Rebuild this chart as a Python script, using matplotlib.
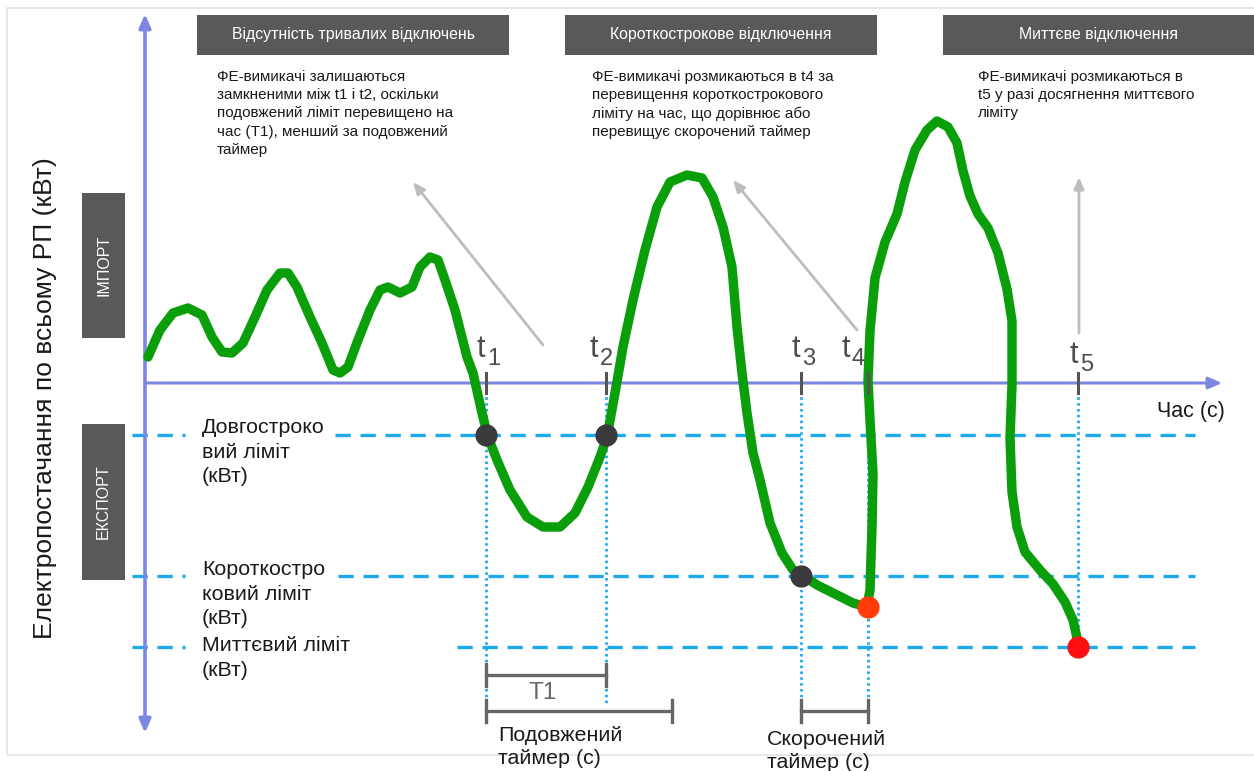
import matplotlib
matplotlib.use("Agg")
import matplotlib.pyplot as plt
from matplotlib.patches import Rectangle

plt.rcParams['font.family'] = ['Liberation Sans', 'DejaVu Sans']
plt.rcParams['lines.scale_dashes'] = False

# --- дані (час у умовних одиницях, потужність у умовних кВт) ---
curve_t = [3, 15, 28, 43, 57, 67, 77, 87, 98, 110, 122, 135, 143, 152, 165, 177,
           188, 195, 203, 213, 225, 235, 243, 255, 267, 275, 285, 293, 300, 310,
           322, 328, 337, 343, 352, 365, 382, 398, 415, 430, 443, 455, 462, 470,
           478, 488, 500, 512, 525, 542, 557, 568, 578, 587, 592, 597, 602, 608,
           615, 625, 637, 648, 657, 672, 692, 708, 722, 725, 727, 728, 725, 723,
           725, 730, 740, 752, 760, 770, 782, 792, 803, 812, 818, 825, 833, 843,
           853, 862, 867, 867, 865, 867, 872, 880, 895, 908, 920, 928, 932, 933]
curve_p = [26, 53, 70, 75, 68, 46, 31, 30, 40, 66, 93, 110, 110, 96, 66, 40,
           13, 10, 16, 43, 73, 93, 96, 90, 96, 116, 126, 123, 103, 73,
           26, 10, -30, -54, -77, -107, -134, -144, -144, -130, -104, -74, -54, -10,
           36, 83, 133, 176, 201, 208, 205, 186, 156, 116, 56, 10, -30, -70,
           -97, -140, -170, -187, -192, -202, -212, -220, -224, -207, -144, -91, -37, 2,
           52, 105, 141, 169, 201, 233, 253, 262, 256, 240, 212, 187, 169, 155,
           130, 94, 62, -2, -55, -109, -144, -169, -187, -201, -219, -237, -255, -262]

limit_long = -52
limit_short = -193
limit_instant = -264
t_marks = [341, 461, 656, 723, 933]
t_names = ['1', '2', '3', '4', '5']
long_timer = 186
trip_t4_p = -224

headers = ['Відсутність тривалих відключень', 'Короткострокове відключення', 'Миттєве відключення']
descriptions = [
    'ФЕ-вимикачі залишаються\nзамкненими між t1 і t2, оскільки\nподовжений ліміт перевищено на\nчас (T1), менший за подовжений\nтаймер',
    'ФЕ-вимикачі розмикаються в t4 за\nперевищення короткострокового\nліміту на час, що дорівнює або\nперевищує скорочений таймер',
    'ФЕ-вимикачі розмикаються в\nt5 у разі досягнення миттєвого\nліміту',
]
limit_labels = ['Довгостроко\nвий ліміт\n(кВт)', 'Короткостро\nковий ліміт\n(кВт)', 'Миттєвий ліміт\n(кВт)']

axis_col = '#7d87e2'
cyan = '#1ea9ea'
box_col = '#595959'
green = '#0b9e0b'
gray_t = '#4d4d4d'

fig = plt.figure(figsize=(12.54, 7.71), dpi=100)
ax = fig.add_axes([0, 0, 1, 1])
ax.set_xlim(-145, 1109)
ax.set_ylim(-388, 383)
ax.axis('off')

# рамка
ax.add_patch(Rectangle((-138, -372), 1260, 747, fill=False, ec='#e3e3e3', lw=1.2))

# шапки
hdr_x = [(52, 364), (420, 732), (798, 1109)]
desc_x = [72, 447, 833]
for (x0, x1), h, dx, d in zip(hdr_x, headers, desc_x, descriptions):
    ax.add_patch(Rectangle((x0, 328), x1 - x0, 40, color=box_col, lw=0))
    ax.text((x0 + x1) / 2, 348, h, color='white', fontsize=11.4, ha='center', va='center')
    ax.text(dx, 313, d, color='#1a1a1a', fontsize=11, ha='left', va='top', linespacing=1.38)

# бокові блоки
ax.add_patch(Rectangle((-63, 45), 43, 145, color=box_col, lw=0))
ax.text(-41.5, 118, 'ІМПОРТ', color='white', fontsize=11.5, rotation=90, ha='center', va='center')
ax.add_patch(Rectangle((-63, -197), 43, 156, color=box_col, lw=0))
ax.text(-41.5, -119, 'ЕКСПОРТ', color='white', fontsize=11.5, rotation=90, ha='center', va='center')
ax.text(-100, -15, 'Електропостачання по всьому РП (кВт)', fontsize=19, rotation=90,
        ha='center', va='center', color='#1a1a1a')

# ліміти
gap_end = [190, 193, 312]
lab_y = [-69, -211, -275]
for lim, g, lab, ly in zip([limit_long, limit_short, limit_instant], gap_end, limit_labels, lab_y):
    ax.plot([-13, 40], [lim, lim], color=cyan, lw=2.4, dashes=(11, 7))
    ax.plot([g, 1050], [lim, lim], color=cyan, lw=2.4, dashes=(11, 7))
    ax.text(57, ly, lab, fontsize=15.4, ha='left', va='center', linespacing=1.38, color='#1a1a1a')

# вертикальні пунктири
v_end = [-337, -322, -317, -317, limit_instant]
for t, ve in zip(t_marks, v_end):
    ax.plot([t, t], [-8, ve], color=cyan, lw=2, dashes=(1.8, 2.4))

# осі
ax.annotate('', xy=(0, 369), xytext=(0, -350),
            arrowprops=dict(arrowstyle='<|-|>,head_length=0.8,head_width=0.35', color=axis_col, lw=2.6,
                            shrinkA=0, shrinkB=0))
ax.annotate('', xy=(1077, 0), xytext=(0, 0),
            arrowprops=dict(arrowstyle='-|>,head_length=0.8,head_width=0.35', color=axis_col, lw=2.2,
                            shrinkA=0, shrinkB=0))
ax.text(1012, -29, 'Час (с)', fontsize=15.5, ha='left', va='center', color='#1a1a1a')

# сірі стрілки
arrows = [((398, 38), (268, 201)), ((712, 53), (588, 203)), ((934, 50), (934, 206))]
for (xa, ya), (xb, yb) in arrows:
    ax.annotate('', xy=(xb, yb), xytext=(xa, ya),
                arrowprops=dict(arrowstyle='-|>,head_length=0.7,head_width=0.3', color='#bdbdbd', lw=2,
                                shrinkA=0, shrinkB=0))

# крива
ax.plot(curve_t, curve_p, color=green, lw=6.8, solid_joinstyle='round', solid_capstyle='round', zorder=4)

# позначки t
tl_x = [341, 454, 656, 706, 934]
tl_y = [34, 34, 34, 34, 28]
for t, n, lx, ly in zip(t_marks, t_names, tl_x, tl_y):
    ax.plot([t, t], [10, -10], color='#555555', lw=2.2, zorder=5)
    ax.text(lx - 1, ly, 't', fontsize=22, color=gray_t, ha='right', va='center')
    ax.text(lx + 1, ly - 10, n, fontsize=17, color=gray_t, ha='left', va='center')

# точки
ax.plot([t_marks[0], t_marks[1]], [limit_long, limit_long], 'o', color='#3a3a3c', ms=15, zorder=6)
ax.plot([t_marks[2]], [limit_short], 'o', color='#3a3a3c', ms=15, zorder=6)
ax.plot([t_marks[3]], [trip_t4_p], 'o', color='#ff3c0a', ms=15, zorder=6)
ax.plot([t_marks[4]], [limit_instant], 'o', color='#ff1010', ms=15, zorder=6)

# таймери
br_col = '#666666'
def bracket(x0, x1, y):
    ax.plot([x0, x1], [y, y], color=br_col, lw=2.4)
    for x in (x0, x1):
        ax.plot([x, x], [y + 11, y - 11], color=br_col, lw=2.4)

bracket(t_marks[0], t_marks[1], -292)
ax.text((t_marks[0] + t_marks[1]) / 2 - 3, -310, 'T1', fontsize=17.5, color='#666666', ha='center', va='center')
bracket(t_marks[0], t_marks[0] + long_timer, -328)
bracket(t_marks[2], t_marks[3], -328)
ax.text(353, -364, 'Подовжений\nтаймер (с)', fontsize=15.4, ha='left', va='center', linespacing=1.3, color='#1a1a1a')
ax.text(622, -368, 'Скорочений\nтаймер (с)', fontsize=15.4, ha='left', va='center', linespacing=1.3, color='#1a1a1a')

fig.savefig('out.png', dpi=100)
